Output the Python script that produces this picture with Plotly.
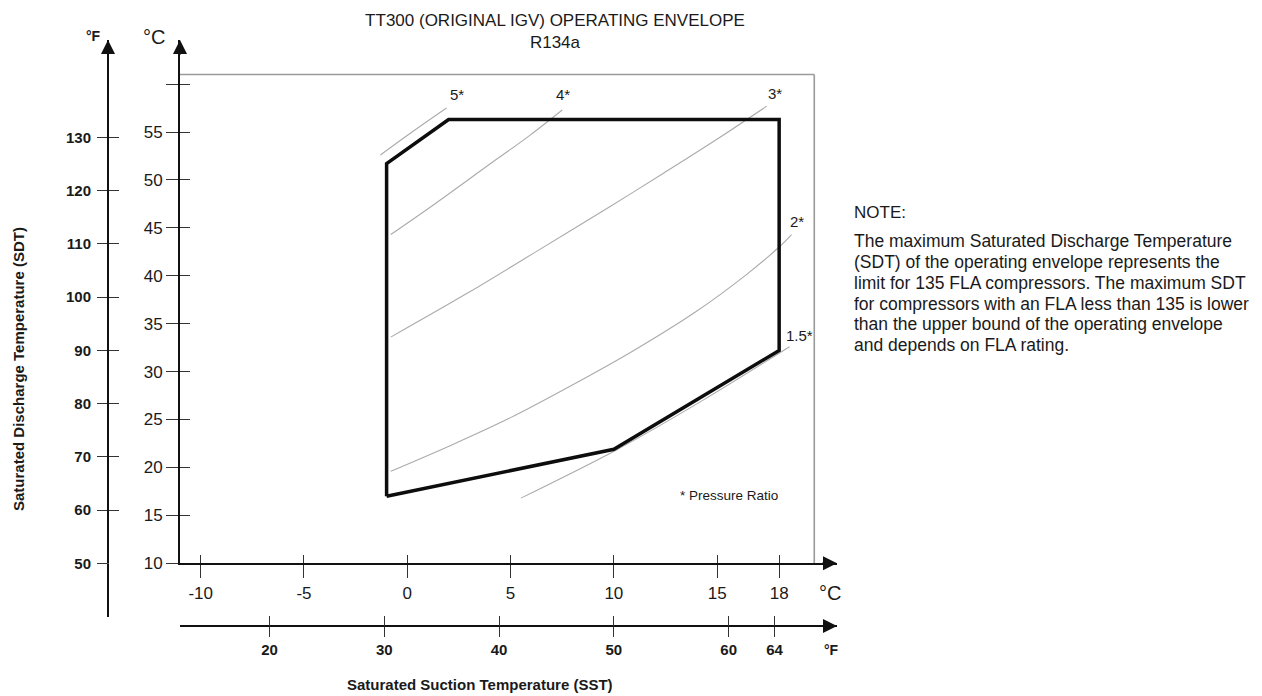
import plotly.graph_objects as go

# ---------------- data (all temperatures in °C) ----------------
envelope_sst_c = [-1.0, -1.0, 2.0, 18.0, 18.0, 10.0, -1.0]
envelope_sdt_c = [17.0, 51.7, 56.3, 56.3, 32.2, 21.9, 17.0]

ratio_names = ["5*", "4*", "3*", "2*", "1.5*"]
ratio_sst = [
    [-1.3, 0.3, 1.9],
    [-0.8, 1.4, 3.9, 5.9, 7.5],
    [-0.8, 3.0, 6.3, 9.8, 12.4, 15.1, 17.4],
    [-0.8, 2.1, 5.0, 7.9, 10.8, 14.0, 16.4, 18.0, 18.6],
    [5.5, 10.1, 14.3, 18.5],
]
ratio_sdt = [
    [52.6, 55.1, 57.5],
    [44.3, 47.6, 51.5, 54.6, 57.3],
    [33.6, 38.3, 42.6, 47.2, 50.7, 54.4, 57.7],
    [19.6, 22.3, 25.2, 28.5, 32.0, 36.3, 40.1, 43.0, 44.3],
    [16.8, 21.8, 27.0, 32.6],
]
ratio_label_sst = [2.4, 7.55, 17.8, 18.85, 19.0]
ratio_label_sdt = [58.9, 58.9, 59.0, 45.7, 33.8]

sst_c_ticks = [-10, -5, 0, 5, 10, 15, 18]
sst_c_ticktext = ["-10", "-5", "0", "5", "10", "15", "18"]
sst_f_ticks = [20, 30, 40, 50, 60, 64]
sdt_c_ticks = [10, 15, 20, 25, 30, 35, 40, 45, 50, 55, 60]
sdt_c_ticktext = ["10", "15", "20", "25", "30", "35", "40", "45", "50", "55", ""]
sdt_f_ticks = [50, 60, 70, 80, 90, 100, 110, 120, 130]

title_text = "TT300 (ORIGINAL IGV) OPERATING ENVELOPE<br>R134a"
note_head = "NOTE:"
note_lines = [
    "The maximum Saturated Discharge Temperature",
    "(SDT) of the operating envelope represents the",
    "limit for 135 FLA compressors. The maximum SDT",
    "for compressors with an FLA less than 135 is lower",
    "than the upper bound of the operating envelope",
    "and depends on FLA rating.",
]
pressure_note = "* Pressure Ratio"
pressure_note_pos = (15.55, 17.1)

# ---------------- layout geometry ----------------
C_X_RANGE = [-11.0, 20.8]
C_Y_RANGE = [10.0, 64.6]
FRAME_RIGHT_C = 19.7
FRAME_TOP_C = 61.0


def c2f(c):
    return c * 9.0 / 5.0 + 32.0


F_X_RANGE = [c2f(v) for v in C_X_RANGE]
F_Y_RANGE = [c2f(v) for v in C_Y_RANGE]

FIG_W, FIG_H = 1262, 696
ML, MR, MT, MB = 108, 425, 40, 70
PW = FIG_W - ML - MR
PH = FIG_H - MT - MB


def pxx(xp):
    return (xp - ML) / PW


def pxy(yp):
    return (FIG_H - MB - yp) / PH


X_DOM = [pxx(180), 1.0]
Y_DOM = [pxy(563.3), 1.0]

FONT = "Liberation Sans, Arial, Helvetica, sans-serif"
INK = "#1a1a1a"

fig = go.Figure()

# pressure-ratio curves
for xs, ys in zip(ratio_sst, ratio_sdt):
    fig.add_trace(go.Scatter(
        x=xs, y=ys, mode="lines",
        line=dict(color="#ababab", width=1.1, shape="spline", smoothing=0.9),
        hoverinfo="skip", showlegend=False, cliponaxis=False))

# operating envelope
fig.add_trace(go.Scatter(
    x=envelope_sst_c, y=envelope_sdt_c, mode="lines",
    line=dict(color="#0d0d0d", width=3.5), showlegend=False,
    hoverinfo="x+y"))

# dummy traces to register the secondary (°F) and tick-duplicate axes
for xa, ya in (("x2", "y2"), ("x3", "y3"), ("x4", "y4")):
    fig.add_trace(go.Scatter(x=[None], y=[None], xaxis=xa, yaxis=ya,
                             showlegend=False, hoverinfo="skip"))

common = dict(showgrid=False, zeroline=False, automargin=False,
              tickcolor="#333333", tickwidth=1.2)

fig.update_layout(
    width=FIG_W, height=FIG_H,
    template="none",
    paper_bgcolor="white", plot_bgcolor="white",
    margin=dict(l=ML, r=MR, t=MT, b=MB, pad=0),
    showlegend=False,
    font=dict(family=FONT, color=INK),
    title=dict(text=title_text, x=555 / FIG_W, xref="container", xanchor="center",
               y=1 - 26 / FIG_H, yref="container", yanchor="middle",
               font=dict(family=FONT, size=17, color=INK)),
    xaxis=dict(domain=X_DOM, range=C_X_RANGE, anchor="y",
               showline=True, linecolor="#111111", linewidth=2,
               tickmode="array", tickvals=sst_c_ticks, ticktext=sst_c_ticktext,
               ticks="outside", ticklen=13,
               tickfont=dict(size=17, color=INK), **common),
    yaxis=dict(domain=Y_DOM, range=C_Y_RANGE, anchor="x",
               showline=True, linecolor="#111111", linewidth=2,
               tickmode="array", tickvals=sdt_c_ticks, ticktext=sdt_c_ticktext,
               ticks="outside", ticklen=12,
               tickfont=dict(size=17, color=INK), **common),
    xaxis2=dict(overlaying="x", anchor="free", position=0, range=F_X_RANGE,
                showline=True, linecolor="#111111", linewidth=2,
                tickmode="array", tickvals=sst_f_ticks, ticks="outside", ticklen=10,
                tickfont=dict(size=15, color=INK, weight="bold"), **common),
    yaxis2=dict(overlaying="y", anchor="free", position=0, range=F_Y_RANGE,
                showline=True, linecolor="#111111", linewidth=2,
                tickmode="array", tickvals=sdt_f_ticks, ticks="outside", ticklen=10,
                ticklabelstandoff=3,
                tickfont=dict(size=15, color=INK, weight="bold"), **common),
    xaxis3=dict(overlaying="x", anchor="y", range=C_X_RANGE, showline=False,
                tickmode="array", tickvals=sst_c_ticks, ticks="inside", ticklen=8,
                showticklabels=False, **common),
    yaxis3=dict(overlaying="y", anchor="x", range=C_Y_RANGE, showline=False,
                tickmode="array", tickvals=sdt_c_ticks, ticks="inside", ticklen=10,
                showticklabels=False, **common),
    xaxis4=dict(overlaying="x", anchor="free", position=0, range=F_X_RANGE,
                showline=False, tickmode="array", tickvals=sst_f_ticks,
                ticks="inside", ticklen=10, showticklabels=False, **common),
    yaxis4=dict(overlaying="y", anchor="free", position=0, range=F_Y_RANGE,
                showline=False, tickmode="array", tickvals=sdt_f_ticks,
                ticks="inside", ticklen=10, showticklabels=False, **common),
)

# grey frame (top and right edges)
fig.add_shape(type="line", xref="x", yref="y", x0=C_X_RANGE[0], x1=FRAME_RIGHT_C,
              y0=FRAME_TOP_C, y1=FRAME_TOP_C, line=dict(color="#9a9a9a", width=1.6))
fig.add_shape(type="line", xref="x", yref="y", x0=FRAME_RIGHT_C, x1=FRAME_RIGHT_C,
              y0=FRAME_TOP_C, y1=C_Y_RANGE[0], line=dict(color="#9a9a9a", width=1.6))
# °F vertical axis extends a little below its 50 °F tick
fig.add_shape(type="line", xref="paper", yref="paper", x0=0, x1=0,
              y0=pxy(617), y1=Y_DOM[0], line=dict(color="#111111", width=2))

ann = []
# axis arrowheads
arrow = dict(text="", showarrow=True, arrowhead=2, arrowsize=1.4, arrowwidth=2,
             arrowcolor="#111111", axref="pixel", ayref="pixel", standoff=0)
ann.append(dict(x=C_X_RANGE[1], y=C_Y_RANGE[0], xref="x", yref="y", ax=-16, ay=0, **arrow))
ann.append(dict(x=C_X_RANGE[1], y=0, xref="x", yref="paper", ax=-16, ay=0, **arrow))
ann.append(dict(x=C_X_RANGE[0], y=C_Y_RANGE[1], xref="x", yref="y", ax=0, ay=16, **arrow))
ann.append(dict(x=0, y=C_Y_RANGE[1], xref="paper", yref="y", ax=0, ay=16, **arrow))

ctr = dict(xref="paper", yref="paper", xanchor="center", yanchor="middle",
           showarrow=False)
# unit labels
ann.append(dict(text="°F", x=pxx(93), y=pxy(36), font=dict(size=14, weight="bold", color=INK), **ctr))
ann.append(dict(text="°C", x=pxx(154), y=pxy(37), font=dict(size=20, color=INK), **ctr))
ann.append(dict(text="°C", x=pxx(830), y=pxy(593), font=dict(size=20, color=INK), **ctr))
ann.append(dict(text="°F", x=pxx(831), y=pxy(650), font=dict(size=14, weight="bold", color=INK), **ctr))

# axis titles
ann.append(dict(text="Saturated Suction Temperature (SST)", x=pxx(480), y=pxy(684),
                font=dict(size=15, weight="bold", color=INK), **ctr))
ann.append(dict(text="Saturated Discharge Temperature (SDT)", x=pxx(18), y=pxy(369),
                textangle=-90, font=dict(size=15, weight="bold", color=INK), **ctr))

# pressure-ratio labels
for name, lx, ly in zip(ratio_names, ratio_label_sst, ratio_label_sdt):
    ann.append(dict(text=name, x=lx, y=ly, xref="x", yref="y", showarrow=False,
                    xanchor="center", yanchor="middle",
                    font=dict(size=15, color=INK)))
ann.append(dict(text=pressure_note, x=pressure_note_pos[0], y=pressure_note_pos[1],
                xref="x", yref="y", showarrow=False, xanchor="center", yanchor="middle",
                font=dict(size=13.5, color=INK)))

# note block
ann.append(dict(text=note_head, x=pxx(851.5), y=pxy(213), xref="paper", yref="paper",
                xanchor="left", yanchor="middle", showarrow=False,
                font=dict(size=17, color=INK)))
for i, line in enumerate(note_lines):
    ann.append(dict(text=line, x=pxx(851.5), y=pxy(241.5 + 20.7 * i),
                    xref="paper", yref="paper", xanchor="left", yanchor="middle",
                    showarrow=False, font=dict(size=17.5, color=INK)))

fig.update_layout(annotations=ann)

# the page's default 8px body margin would shift the whole figure
fig.write_html("out.html", config={"displayModeBar": False},
               post_script="document.body.style.margin='0';")
